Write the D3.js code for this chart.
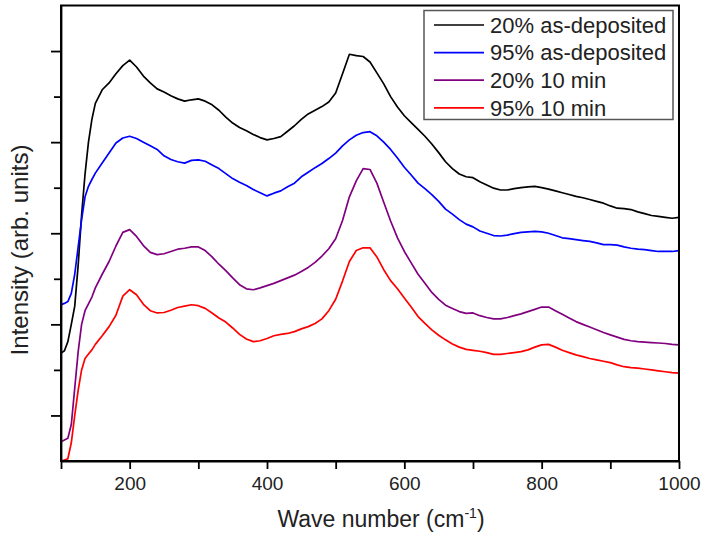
<!DOCTYPE html>
<meta charset="utf-8">
<style>

body {
  margin: 0;
  background: #fff;
}

text {
  font-family: "Liberation Sans", Arial, sans-serif;
  fill: #222;
}

.line {
  fill: none;
  stroke-width: 1.7;
  stroke-linejoin: round;
}

</style>
<body>
<script src="https://cdn.jsdelivr.net/npm/d3@7"></script>
<script>

/*
  Data (intensity offset, arb. units)
*/

var waveNumbers = [100, 105, 110, 115, 120, 125, 130, 135, 140, 145,
  150, 160, 170, 180, 190, 200, 210, 220, 230, 240, 250, 260, 270, 280, 290,
  300, 310, 320, 330, 340, 350, 360, 370, 380, 390, 400, 410, 420, 430, 440,
  450, 460, 470, 480, 490, 500, 510, 520, 530, 540, 550, 560, 570, 580, 590,
  600, 610, 620, 630, 640, 650, 660, 670, 680, 690, 700, 710, 720, 730, 740,
  750, 760, 770, 780, 790, 800, 810, 820, 830, 840, 850, 860, 870, 880, 890,
  900, 910, 920, 930, 940, 950, 960, 970, 980, 990, 1000];

var black20Dep = [2.37, 2.42, 2.62, 3.0, 3.4, 4.3, 5.4, 6.3, 7.0, 7.5,
  7.85, 8.15, 8.3, 8.5, 8.68, 8.8, 8.65, 8.45, 8.3, 8.17, 8.1, 8.02, 7.95, 7.9, 7.93,
  7.95, 7.9, 7.82, 7.7, 7.55, 7.42, 7.32, 7.25, 7.17, 7.1, 7.05, 7.08, 7.12, 7.24, 7.36,
  7.5, 7.62, 7.7, 7.78, 7.88, 8.08, 8.5, 8.93, 8.9, 8.88, 8.76, 8.52, 8.28, 8.0, 7.77,
  7.58, 7.43, 7.28, 7.13, 6.96, 6.77, 6.57, 6.42, 6.3, 6.24, 6.22, 6.13, 6.06, 5.99, 5.95,
  5.95, 5.98, 6.0, 6.02, 6.03, 6.0, 5.97, 5.93, 5.89, 5.85, 5.81, 5.78, 5.74, 5.7, 5.66,
  5.6, 5.55, 5.54, 5.52, 5.47, 5.43, 5.39, 5.37, 5.35, 5.33, 5.35];

var blue95Dep = [3.43, 3.46, 3.5, 3.68, 4.1, 4.7, 5.3, 5.8, 6.03, 6.18,
  6.32, 6.54, 6.76, 6.98, 7.09, 7.13, 7.08, 7.0, 6.92, 6.84, 6.7, 6.62, 6.57, 6.54, 6.6,
  6.61, 6.58, 6.5, 6.42, 6.31, 6.2, 6.12, 6.05, 5.96, 5.89, 5.82, 5.88, 5.93, 6.02, 6.1,
  6.24, 6.34, 6.44, 6.53, 6.64, 6.76, 6.92, 7.05, 7.15, 7.21, 7.23, 7.14, 7.0, 6.84, 6.65,
  6.45, 6.28, 6.1, 5.98, 5.85, 5.7, 5.53, 5.42, 5.3, 5.2, 5.14, 5.05, 5.0, 4.95, 4.94,
  4.96, 4.99, 5.02, 5.03, 5.04, 5.03, 5.0, 4.95, 4.9, 4.88, 4.86, 4.84, 4.82, 4.79, 4.75,
  4.75, 4.74, 4.7, 4.67, 4.65, 4.64, 4.62, 4.6, 4.6, 4.6, 4.62];

var purple20Ann = [0.42, 0.46, 0.5, 0.8, 1.6, 2.4, 3.0, 3.3, 3.45, 3.6,
  3.8, 4.1, 4.38, 4.72, 5.02, 5.08, 4.93, 4.73, 4.58, 4.53, 4.55, 4.6, 4.65, 4.67, 4.7,
  4.7, 4.62, 4.48, 4.32, 4.18, 4.02, 3.87, 3.78, 3.76, 3.8, 3.85, 3.9, 3.96, 4.02, 4.08,
  4.16, 4.25, 4.36, 4.5, 4.66, 4.88, 5.28, 5.8, 6.15, 6.42, 6.4, 6.1, 5.68, 5.27, 4.9,
  4.6, 4.35, 4.1, 3.9, 3.7, 3.55, 3.42, 3.35, 3.28, 3.24, 3.25, 3.19, 3.15, 3.12, 3.12,
  3.15, 3.19, 3.23, 3.28, 3.33, 3.38, 3.38, 3.3, 3.22, 3.14, 3.06, 3.0, 2.94, 2.88, 2.82,
  2.77, 2.72, 2.67, 2.64, 2.62, 2.61, 2.6, 2.59, 2.58, 2.56, 2.55];

var red95Ann = [0.0, 0.02, 0.05, 0.4, 1.0, 1.55, 2.0, 2.25, 2.35, 2.44,
  2.56, 2.75, 2.95, 3.2, 3.62, 3.76, 3.65, 3.44, 3.3, 3.25, 3.26, 3.31, 3.37, 3.4, 3.43,
  3.41, 3.35, 3.25, 3.14, 3.05, 2.92, 2.78, 2.68, 2.62, 2.64, 2.69, 2.75, 2.78, 2.8, 2.84,
  2.9, 2.95, 3.02, 3.12, 3.3, 3.55, 3.95, 4.38, 4.62, 4.68, 4.68, 4.48, 4.2, 3.96, 3.78,
  3.58, 3.38, 3.17, 3.02, 2.88, 2.76, 2.66, 2.57, 2.5, 2.45, 2.43, 2.41, 2.38, 2.34, 2.34,
  2.36, 2.38, 2.4, 2.44, 2.5, 2.55, 2.56, 2.5, 2.43, 2.38, 2.33, 2.29, 2.25, 2.22, 2.19,
  2.16, 2.11, 2.07, 2.05, 2.04, 2.02, 2.0, 1.98, 1.96, 1.94, 1.93];

var seriesNames  = ["20% as-deposited", "95% as-deposited", "20% 10 min", "95% 10 min"];
var seriesValues = [black20Dep, blue95Dep, purple20Ann, red95Ann];
var seriesColors = ["#000000", "#0000ff", "#800080", "#ff0000"];

var xTicks      = [100, 200, 300, 400, 500, 600, 700, 800, 900, 1000];
var xTickLabels = [200, 400, 600, 800, 1000];
var yTicks      = [1, 2, 3, 4, 5, 6, 7, 8, 9];

/*
  Frame
*/

var width = 702,
    height = 540,
    margin = {top: 5.5, right: 23, bottom: 79, left: 61};

var x = d3.scaleLinear()
    .domain([100, 1000])
    .range([margin.left, width - margin.right]);

var y = d3.scaleLinear()
    .domain([0, 10])
    .range([height - margin.bottom, margin.top]);

var svg = d3.select("body").append("svg")
    .attr("width", width)
    .attr("height", height);

svg.append("defs").append("clipPath")
    .attr("id", "plot-clip")
  .append("rect")
    .attr("x", margin.left)
    .attr("y", margin.top)
    .attr("width", x(1000) - x(100))
    .attr("height", y(0) - y(10));

/*
  Spectra
*/

var line = d3.line()
    .x(function(d) { return x(d[0]); })
    .y(function(d) { return y(d[1]); });

var lines = svg.append("g").attr("clip-path", "url(#plot-clip)");

seriesValues.forEach(function(vals, i) {
  lines.append("path")
      .datum(d3.zip(waveNumbers, vals))
      .attr("class", "line")
      .attr("stroke", seriesColors[i])
      .attr("d", line);
});

/*
  Axes
*/

var xAxis = svg.append("g")
    .attr("transform", "translate(0," + y(0) + ")")
    .call(d3.axisBottom(x)
      .tickValues(xTicks)
      .tickSize(8)
      .tickSizeOuter(0)
      .tickFormat(function(d) { return xTickLabels.indexOf(d) >= 0 ? d : ""; }));

xAxis.selectAll("text")
    .attr("y", 16)
    .style("font-size", "19px")
    .style("font-family", "'Liberation Sans', Arial, sans-serif");

var yAxis = svg.append("g")
    .attr("transform", "translate(" + x(100) + ",0)")
    .call(d3.axisLeft(y)
      .tickValues(yTicks)
      .tickSizeOuter(0)
      .tickFormat(""));

yAxis.selectAll(".tick line")
    .attr("x2", function(d) { return d % 2 ? -10 : -7; });

svg.selectAll(".domain, .tick line")
    .attr("stroke", "#000")
    .attr("stroke-width", 1.8);

svg.append("rect")
    .attr("x", x(100))
    .attr("y", y(10))
    .attr("width", x(1000) - x(100))
    .attr("height", y(0) - y(10))
    .attr("fill", "none")
    .attr("stroke", "#000")
    .attr("stroke-width", 2);

/*
  Axis titles
*/

var xTitle = svg.append("text")
    .attr("x", 381)
    .attr("y", 527)
    .attr("text-anchor", "middle")
    .style("font-size", "23px");

xTitle.append("tspan").text("Wave number (cm");
xTitle.append("tspan")
    .attr("dy", -9)
    .style("font-size", "14px")
    .text("-1");
xTitle.append("tspan")
    .attr("dy", 9)
    .text(")");

svg.append("text")
    .attr("transform", "translate(28," + 250 + ") rotate(-90)")
    .attr("text-anchor", "middle")
    .style("font-size", "24px")
    .text("Intensity (arb. units)");

/*
  Legend
*/

var legend = svg.append("g");

legend.append("rect")
    .attr("x", 424)
    .attr("y", 10.5)
    .attr("width", 249)
    .attr("height", 109)
    .attr("fill", "#fff")
    .attr("stroke", "#555")
    .attr("stroke-width", 1.5);

var item = legend.selectAll(".item")
    .data(seriesNames)
  .enter().append("g")
    .attr("class", "item")
    .attr("transform", function(d, i) { return "translate(0," + (25 + i * 27.6) + ")"; });

item.append("line")
    .attr("x1", 434)
    .attr("x2", 484)
    .attr("stroke", function(d, i) { return seriesColors[i]; })
    .attr("stroke-width", 1.7);

item.append("text")
    .attr("x", 490)
    .attr("dy", ".35em")
    .style("font-size", "22px")
    .text(function(d) { return d; });

</script>
